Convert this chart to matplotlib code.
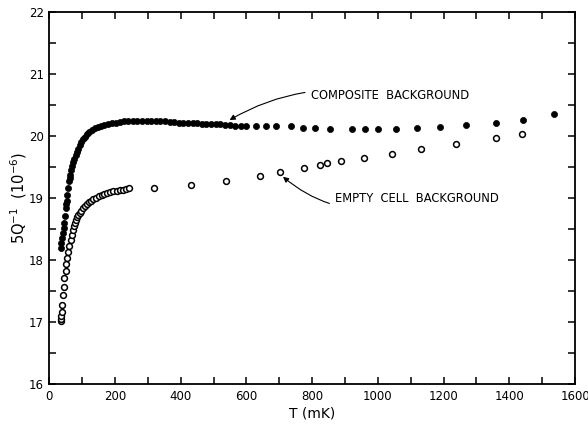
import matplotlib
matplotlib.use("Agg")
import matplotlib.pyplot as plt
from matplotlib.ticker import MultipleLocator

# Composite background (filled circles)
comp_T = [36, 37, 39, 41, 44, 46, 48, 50, 52, 53, 55, 58, 60, 62, 64, 67, 70, 73, 76, 80,
          84, 88, 93, 98, 103, 109, 115, 122, 130, 139, 148, 158, 168, 178, 190, 202, 214,
          226, 240, 254, 268, 282, 296, 310, 324, 338, 352, 366, 380, 394, 408, 422, 436,
          450, 464, 478, 492, 506, 520, 535, 550, 566, 582, 600, 630, 661, 691, 736, 772,
          808, 853, 922, 960, 999, 1056, 1119, 1190, 1269, 1358, 1441, 1536]
comp_Q = [18.19, 18.28, 18.36, 18.44, 18.52, 18.60, 18.71, 18.84, 18.90, 18.95, 19.05, 19.16,
          19.27, 19.32, 19.38, 19.45, 19.52, 19.58, 19.63, 19.70, 19.75, 19.80, 19.86, 19.91,
          19.95, 19.99, 20.03, 20.07, 20.10, 20.13, 20.15, 20.17, 20.18, 20.20, 20.21, 20.22,
          20.23, 20.24, 20.24, 20.25, 20.25, 20.25, 20.25, 20.25, 20.25, 20.24, 20.24, 20.23,
          20.23, 20.22, 20.22, 20.21, 20.21, 20.21, 20.20, 20.20, 20.19, 20.19, 20.19, 20.18,
          20.18, 20.17, 20.17, 20.17, 20.16, 20.16, 20.16, 20.16, 20.14, 20.13, 20.11, 20.11,
          20.11, 20.11, 20.12, 20.13, 20.15, 20.18, 20.21, 20.26, 20.36]

# Empty cell background (open circles)
empty_T = [35, 35.5, 36, 38, 39, 41, 45, 46, 50, 51, 55, 58, 61, 65, 68, 71, 74, 78, 81, 85,
           88, 92, 98, 103, 108, 114, 120, 127, 134, 141, 150, 159, 168, 177, 186, 195, 205,
           215, 225, 234, 243, 318, 432, 537, 640, 701, 776, 825, 846, 888, 959, 1042, 1131,
           1238, 1358, 1439]
empty_Q = [17.02, 17.05, 17.09, 17.16, 17.28, 17.44, 17.57, 17.71, 17.83, 17.94, 18.04, 18.13,
           18.23, 18.33, 18.41, 18.49, 18.55, 18.60, 18.65, 18.69, 18.73, 18.76, 18.80, 18.84,
           18.87, 18.90, 18.93, 18.96, 18.98, 19.00, 19.03, 19.05, 19.07, 19.09, 19.10, 19.11,
           19.12, 19.13, 19.13, 19.15, 19.16, 19.17, 19.21, 19.28, 19.36, 19.43, 19.49, 19.53,
           19.56, 19.60, 19.65, 19.72, 19.79, 19.88, 19.97, 20.03]

x_ticks = [0, 200, 400, 600, 800, 1000, 1200, 1400, 1600]
y_ticks = [16, 17, 18, 19, 20, 21, 22]

fig = plt.figure(figsize=(5.88, 4.25), dpi=100)
ax = fig.add_axes([0.0838, 0.0965, 0.978 - 0.0838, 0.971 - 0.0965])

ax.plot(comp_T, comp_Q, 'o', color='black', ms=4.4, mec='black', mew=0.5, clip_on=False)
ax.plot(empty_T, empty_Q, 'o', mfc='white', mec='black', ms=4.2, mew=1.1, clip_on=False)

ax.set_xlim(0, 1600)
ax.set_ylim(16, 22)
ax.set_xticks(x_ticks)
ax.set_xticklabels([str(t) for t in x_ticks])
ax.set_yticks(y_ticks)
ax.set_yticklabels([str(t) for t in y_ticks])
ax.xaxis.set_minor_locator(MultipleLocator(100))
ax.yaxis.set_minor_locator(MultipleLocator(0.5))
ax.tick_params(which='both', direction='in', top=True, right=True, length=5, width=1.1,
               labelsize=8.5, pad=4)
for s in ax.spines.values():
    s.set_linewidth(1.3)

ax.set_xlabel('T (mK)', fontsize=10, labelpad=3)
ax.set_ylabel('5Q$^{-1}$  (10$^{-6}$)', fontsize=10.5)
ax.yaxis.set_label_coords(-0.038, 0.5)

ax.annotate('COMPOSITE  BACKGROUND', xy=(545, 20.25), xytext=(795, 20.65),
            fontsize=8.3, ha='left', va='center',
            arrowprops=dict(arrowstyle='-|>', color='black', lw=0.8, mutation_scale=8,
                            shrinkA=2, shrinkB=1, connectionstyle='arc3,rad=0.2'))
ax.annotate('EMPTY  CELL  BACKGROUND', xy=(708, 19.36), xytext=(869, 18.99),
            fontsize=8.3, ha='left', va='center',
            arrowprops=dict(arrowstyle='-|>', color='black', lw=0.8, mutation_scale=8,
                            shrinkA=2, shrinkB=1, connectionstyle='arc3,rad=-0.3'))

fig.savefig('out.png', dpi=100)
